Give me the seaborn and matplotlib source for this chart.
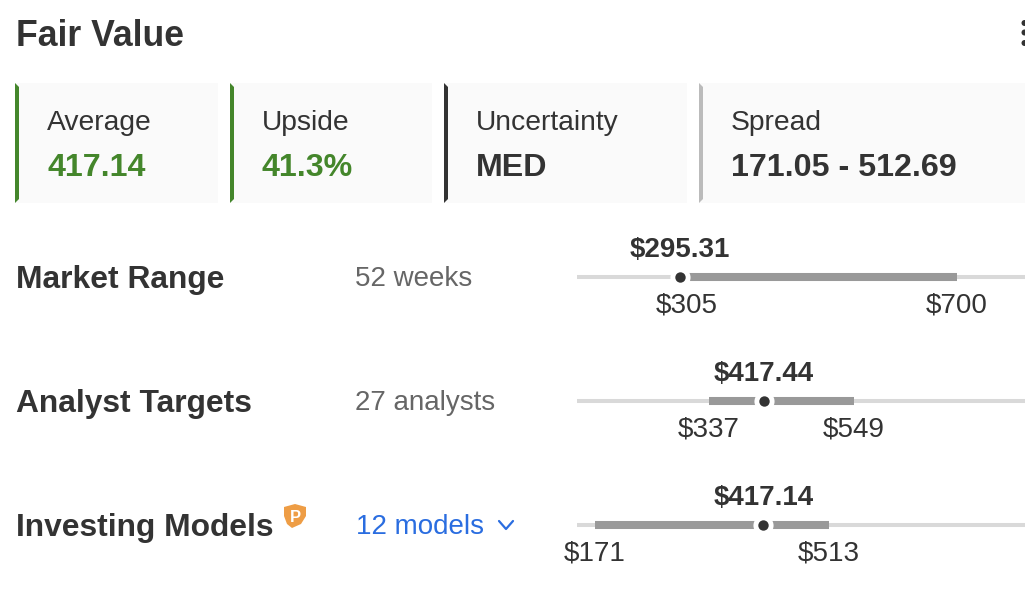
import matplotlib
matplotlib.use("Agg")
import matplotlib.pyplot as plt
from matplotlib.patches import Polygon, Rectangle, Circle
import numpy as np
import pandas as pd
import seaborn as sns

# ---- data ----
title = "Fair Value"
card_labels = ["Average", "Upside", "Uncertainty", "Spread"]
card_values = ["417.14", "41.3%", "MED", "171.05 - 512.69"]
row_names = ["Market Range", "Analyst Targets", "Investing Models"]
row_notes = ["52 weeks", "27 analysts", "12 models"]
range_low = [305, 337, 171]
range_high = [700, 549, 513]
current = [295.31, 417.44, 417.14]
current_labels = ["$295.31", "$417.44", "$417.14"]

# ---- style ----
sns.set_theme(style="white")
plt.rcParams["font.family"] = ["Liberation Sans", "DejaVu Sans"]
DARK, GREY, BLUE, GREEN = "#333333", "#666666", "#2a6de0", "#44862b"
W, H = 1025, 593
fig = plt.figure(figsize=(W / 100, H / 100), dpi=100, facecolor="white")

# page layer in pixel coordinates
bg = fig.add_axes([0, 0, 1, 1])
bg.set_xlim(0, W)
bg.set_ylim(H, 0)
bg.axis("off")

bg.text(16, 45.5, title, fontsize=25.7, fontweight="bold", color=DARK, va="baseline")

card_x = [(15, 218), (230, 432), (444, 687), (699, 1025)]
card_edge = [GREEN, GREEN, DARK, "#bbbbbb"]
card_val_col = [GREEN, GREEN, DARK, DARK]
for (x0, x1), edge, lab, val, vc in zip(card_x, card_edge, card_labels, card_values, card_val_col):
    bg.add_patch(Rectangle((x0, 83), x1 - x0, 120, fc="#fafafa", ec="none"))
    bg.add_patch(Polygon([(x0, 83), (x0 + 4, 87), (x0 + 4, 199), (x0, 203)], fc=edge, ec="none"))
    bg.text(x0 + 32, 130, lab, fontsize=20.3, color=DARK, va="baseline")
    bg.text(x0 + 32, 176, val, fontsize=23.2, fontweight="bold", color=vc, va="baseline")

for yd in (23, 32.5, 43):
    bg.add_patch(Circle((1024.5, yd), 3, fc=DARK, ec="none"))

row_y = [276.5, 400.5, 524.5]
note_cols = [GREY, GREY, BLUE]
note_x = [355, 355, 356]
for name, note, y, col, nx in zip(row_names, row_notes, row_y, note_cols, note_x):
    bg.text(16, y + 11.5, name, fontsize=22.9, fontweight="bold", color=DARK, va="baseline")
    bg.text(nx, y + 10, note, fontsize=20, color=col, va="baseline")

# chevron and shield icon
bg.plot([499, 506, 513], [521, 529, 521], color=BLUE, lw=1.6, solid_capstyle="round")
bg.add_patch(Polygon([(284, 507), (295, 504), (306, 507), (306, 516), (301, 524), (292, 528),
                      (287, 524), (284, 516)], fc="#ee9d45", ec="none"))
bg.text(295, 522, "P", fontsize=12, fontweight="bold", color="white", ha="center", va="baseline")

# range strips: value scale on x, row position on y
ax = fig.add_axes([577 / W, 0, 448 / W, 1])
ax.patch.set_alpha(0)
px_per_unit = 0.6845
ax.set_xlim(171.05 - 18 / px_per_unit, 171.05 + 430 / px_per_unit)
ax.set_ylim((H - row_y[0]) / 124, -row_y[0] / 124)
ax.axis("off")

rows = np.arange(len(row_names))
xlo, xhi = ax.get_xlim()
track = pd.DataFrame({"x": [xlo, xhi] * 3, "y": np.repeat(rows, 2), "u": np.repeat(rows, 2)})
sns.lineplot(data=track, x="x", y="y", units="u", estimator=None, color="#d9d9d9", lw=2.9,
             solid_capstyle="butt", sort=False, legend=False, ax=ax)
ranges = pd.DataFrame({"x": np.ravel(np.column_stack([range_low, range_high])),
                       "y": np.repeat(rows, 2), "u": np.repeat(rows, 2)})
sns.lineplot(data=ranges, x="x", y="y", units="u", estimator=None, color="#999999", lw=5.8,
             solid_capstyle="butt", sort=False, legend=False, ax=ax)
points = pd.DataFrame({"x": current, "y": rows})
sns.scatterplot(data=points, x="x", y="y", s=210, color="white", linewidth=0, legend=False,
                zorder=5, ax=ax)
sns.scatterplot(data=points, x="x", y="y", s=56, color=DARK, linewidth=0, legend=False,
                zorder=6, ax=ax)
ax.set_xlabel("")
ax.set_ylabel("")

for i in rows:
    ax.annotate(current_labels[i], (current[i], i), xytext=(0, 19.5 * 0.72), textcoords="offset points",
                ha="center", va="baseline", fontsize=20, fontweight="bold", color=DARK)
    for v in (range_low[i], range_high[i]):
        ax.annotate(f"${v}", (v, i), xytext=(0, -36 * 0.72), textcoords="offset points",
                    ha="center", va="baseline", fontsize=20, color=DARK)

fig.savefig("out.png", dpi=100)
